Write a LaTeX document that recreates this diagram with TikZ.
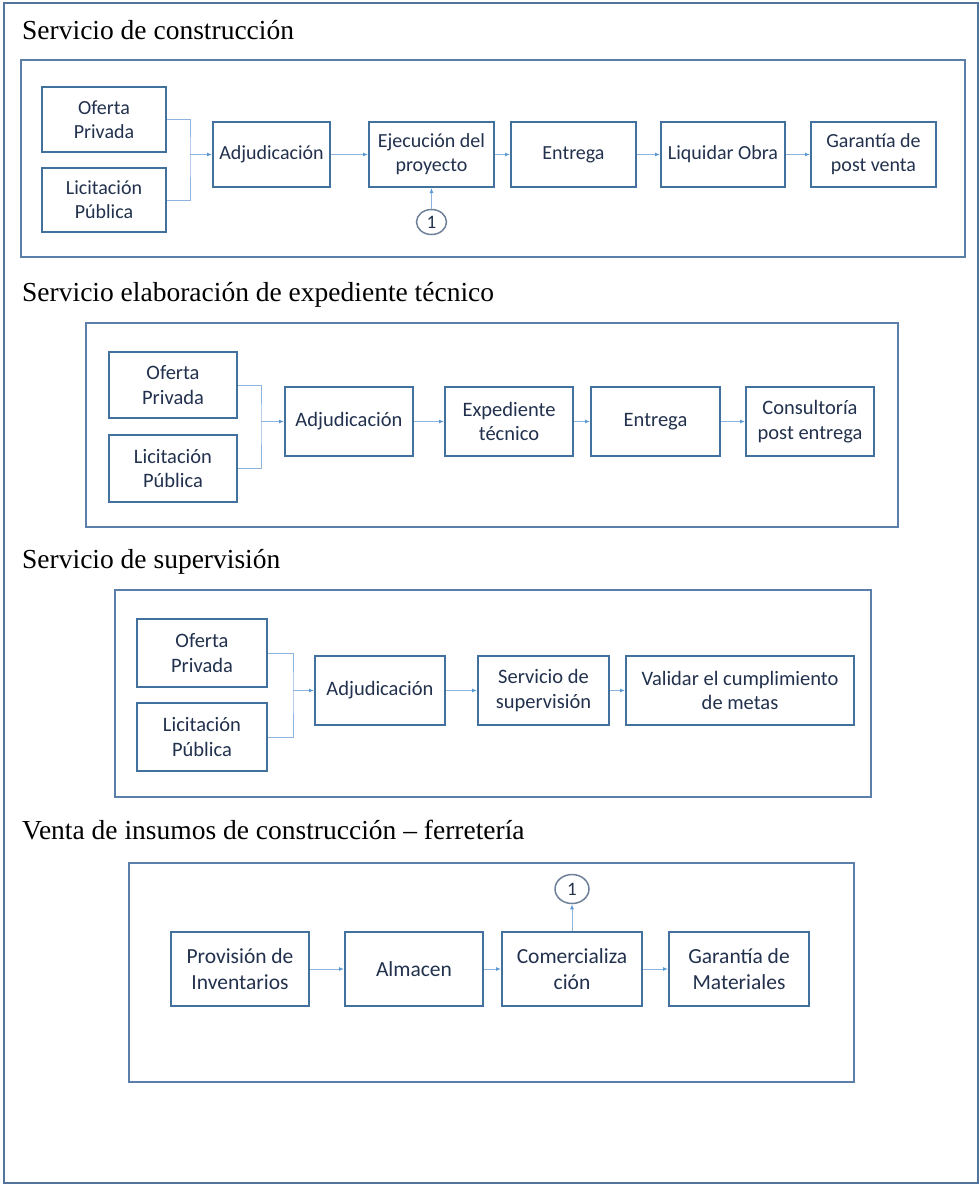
\documentclass[tikz,border=0pt]{standalone}
\usepackage{fontspec}
\setmainfont{Liberation Serif}
\newfontfamily\cajafuente{Carlito}
\usetikzlibrary{arrows.meta,shapes.geometric}
\definecolor{borde}{HTML}{41719C}
\definecolor{marco}{HTML}{5B7FA8}
\definecolor{exterior}{HTML}{52739A}
\definecolor{azullinea}{HTML}{8DB4DE}
\definecolor{punta}{HTML}{5B9BD5}
\definecolor{texto}{HTML}{22314D}
\definecolor{circulo}{HTML}{6E8199}
\newcommand{\caja}[6]{\node[caja,minimum width=#4,minimum height=#5] (#1) at (#2,#3) {#6};}
\tikzset{
 caja/.style={draw=borde, line width=2pt, fill=white, align=center, text=texto, inner sep=2pt,
  font=\cajafuente\fontsize{20}{24}\selectfont},
 seccion/.style={draw=marco, line width=2.5pt},
 titulo/.style={anchor=base west, inner sep=0pt, font=\fontsize{27.5}{33}\selectfont},
 conector/.style={draw=azullinea, line width=1pt},
 flecha/.style={conector, -{Latex[length=5pt,width=4pt,color=punta]}},
 uno/.style={ellipse, draw=circulo, line width=1.5pt, inner sep=0pt, text=texto,
  font=\cajafuente\fontsize{19}{19}\selectfont}
}

\begin{document}
\begin{tikzpicture}[x=1pt,y=-1pt]
\useasboundingbox (0,0) rectangle (980,1184);
\draw[exterior, line width=2pt] (4,3) rectangle (978,1183);

% servicio de construccion
\node[titulo] (t1) at (22,39) {Servicio de construcción};
\draw[seccion] (21,60) rectangle (965,257);
\caja{op1}{104}{119.5}{124}{65}{Oferta\\Privada}
\caja{lp1}{104}{200}{124}{64}{Licitación\\Pública}
\caja{adj1}{271.5}{154.5}{117}{65}{Adjudicación}
\caja{eje1}{431.5}{154.5}{125}{65}{Ejecución del\\proyecto}
\caja{ent1}{573.5}{154.5}{125}{65}{Entrega}
\caja{liq1}{723}{154.5}{124}{65}{Liquidar Obra}
\caja{gar1}{873.5}{154.5}{125}{65}{Garantía de\\post venta}
\node[uno, minimum width=30, minimum height=25] (c1) at (431.5,222) {1};
\coordinate (j1) at (190,154.5);
\draw[conector] (op1) -| (j1) |- (lp1);
\foreach \a/\b in {j1/adj1, adj1/eje1, eje1/ent1, ent1/liq1, liq1/gar1, c1/eje1}
 \draw[flecha] (\a) -- (\b);

% expediente tecnico
\node[titulo] (t2) at (22,301) {Servicio elaboración de expediente técnico};
\draw[seccion] (86,323) rectangle (898,527);
\begin{scope}[caja/.append style={font=\cajafuente\fontsize{20.5}{24.5}\selectfont}]
\caja{op2}{173}{385}{128}{66}{Oferta\\Privada}
\caja{lp2}{173}{468.5}{128}{67}{Licitación\\Pública}
\caja{adj2}{349}{421.5}{128}{69}{Adjudicación}
\caja{exp2}{509}{421.5}{128}{69}{Expediente\\técnico}
\caja{ent2}{655.5}{421.5}{129}{69}{Entrega}
\caja{con2}{810}{421.5}{128}{69}{Consultoría\\post entrega}
\end{scope}
\coordinate (j2) at (261,421.5);
\draw[conector] (op2) -| (j2) |- (lp2);
\foreach \a/\b in {j2/adj2, adj2/exp2, exp2/ent2, ent2/con2}
 \draw[flecha] (\a) -- (\b);

% supervision
\node[titulo] (t3) at (22,568) {Servicio de supervisión};
\draw[seccion] (115,590) rectangle (871,797);
\begin{scope}[caja/.append style={font=\cajafuente\fontsize{20.5}{24.5}\selectfont}]
\caja{op3}{202}{653}{130}{68}{Oferta\\Privada}
\caja{lp3}{202}{737}{130}{68}{Licitación\\Pública}
\caja{adj3}{380}{690.5}{130}{69}{Adjudicación}
\caja{sup3}{543.5}{690.5}{131}{69}{Servicio de\\supervisión}
\caja{val3}{740}{690.5}{228}{69}{Validar el cumplimiento\\de metas}
\end{scope}
\coordinate (j3) at (293,690.5);
\draw[conector] (op3) -| (j3) |- (lp3);
\foreach \a/\b in {j3/adj3, adj3/sup3, sup3/val3}
 \draw[flecha] (\a) -- (\b);

% ferreteria
\node[titulo] (t4) at (22,839) {Venta de insumos de construcción – ferretería};
\draw[seccion] (129,863) rectangle (854,1082);
\begin{scope}[caja/.append style={font=\cajafuente\fontsize{21.5}{26.5}\selectfont}]
\caja{pro4}{240}{969}{138}{74}{Provisión de\\Inventarios}
\caja{alm4}{414}{969}{138}{74}{Almacen}
\caja{com4}{572}{969}{140}{74}{Comercializa\\ción}
\caja{gma4}{739}{969}{140}{74}{Garantía de\\Materiales}
\end{scope}
\node[uno, minimum width=34, minimum height=29] (c4) at (572,889) {1};
\foreach \a/\b in {pro4/alm4, alm4/com4, com4/gma4, com4/c4}
 \draw[flecha] (\a) -- (\b);
\end{tikzpicture}
\end{document}
